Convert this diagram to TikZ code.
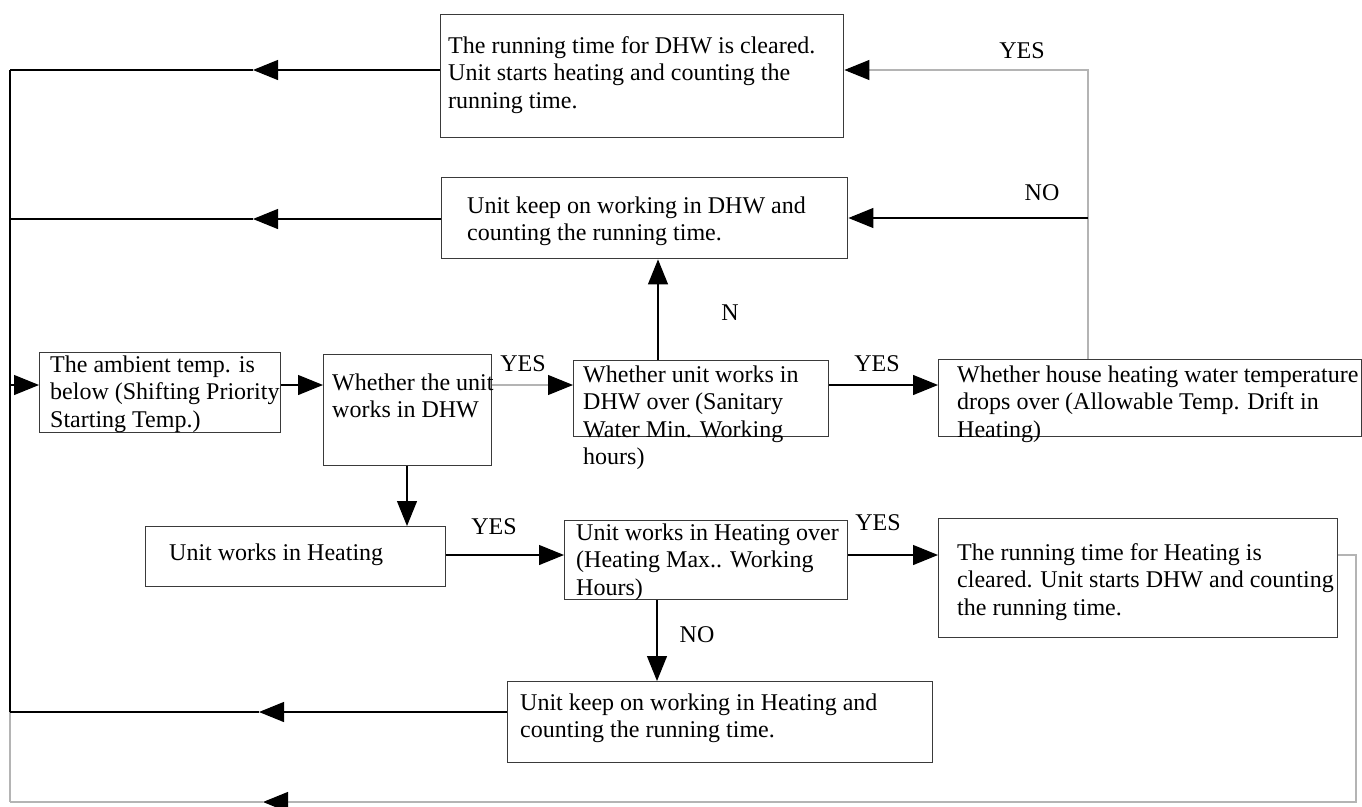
\documentclass[tikz,border=0pt]{standalone}
\usepackage{fontspec}
\setmainfont{Liberation Serif}
\usetikzlibrary{arrows.meta}
\definecolor{boxgray}{HTML}{3A3A3A}
\definecolor{linegray}{HTML}{B4B4B4}
% multi-line text whose baseline is the first line
\newcommand\mlines[1]{\begin{tabular}[t]{@{}l@{}}#1\end{tabular}}
\begin{document}
\begin{tikzpicture}[x=1pt,y=-1pt,
  box/.style={draw=boxgray, line width=1.4pt, rectangle, anchor=north west, inner sep=0pt},
  txt/.style={anchor=base west, inner sep=0pt, font=\fontsize{24}{27.5}\selectfont},
  lbl/.style={inner sep=0pt, font=\fontsize{24}{27.5}\selectfont},
  line/.style={draw=black, line width=1.2pt},
  faint/.style={draw=linegray, line width=1.1pt},
  tip/.style={-{Triangle[length=25pt,width=20pt,color=black]}}
]
\fill[white] (0,0) rectangle (1362,806);
\useasboundingbox (0,0) rectangle (1362,806);

% boxes
\node[box, minimum width=403pt, minimum height=123pt] (T1) at (440,14) {};
\node[box, minimum width=406pt, minimum height=81pt]  (T2) at (441,177) {};
\node[box, minimum width=241pt, minimum height=80pt]  (A)  at (39,352) {};
\node[box, minimum width=168pt, minimum height=111pt] (B)  at (323,354) {};
\node[box, minimum width=255pt, minimum height=76pt]  (C)  at (573,360) {};
\node[box, minimum width=423pt, minimum height=77pt]  (D)  at (938,359) {};
\node[box, minimum width=300pt, minimum height=60pt]  (E)  at (145,526) {};
\node[box, minimum width=283pt, minimum height=79pt]  (F)  at (564,520) {};
\node[box, minimum width=399pt, minimum height=119pt] (G)  at (938,518) {};
\node[box, minimum width=425pt, minimum height=81pt]  (H)  at (507,681) {};

% box texts
\node[txt] (T1t) at (448,53) {\mlines{The running time for DHW is cleared.\\Unit starts heating and counting the\\running time.}};
\node[txt] (T2t) at (467,213) {\mlines{Unit keep on working in DHW and\\counting the running time.}};
\node[txt] (At)  at (50,372)  {\mlines{The ambient temp. is\\below (Shifting Priority\\Starting Temp.)}};
\node[txt] (Bt)  at (332,390) {\mlines{Whether the unit\\works in DHW}};
\node[txt] (Ct)  at (583,382) {\mlines{Whether unit works in\\DHW over (Sanitary\\Water Min. Working\\hours)}};
\node[txt] (Dt)  at (957,382) {\mlines{Whether house heating water temperature\\drops over (Allowable Temp. Drift in\\Heating)}};
\node[txt] (Et)  at (169,560) {Unit works in Heating};
\node[txt] (Ft)  at (576,540) {\mlines{Unit works in Heating over\\(Heating Max.. Working\\Hours)}};
\node[txt] (Gt)  at (957,560) {\mlines{The running time for Heating is\\cleared. Unit starts DHW and counting\\the running time.}};
\node[txt] (Ht)  at (520,710) {\mlines{Unit keep on working in Heating and\\counting the running time.}};

% routing points
\coordinate (Ltop) at (10,70);
\coordinate (Lmid) at (10,219);
\coordinate (Lrow) at (10,385);
\coordinate (Lh)   at (10,712);
\coordinate (Lbot) at (10,802);
\coordinate (m1) at (253,70);
\coordinate (m2) at (253,219);
\coordinate (m3) at (259,712);
\coordinate (m4) at (263,802);
\coordinate (J)  at (1088,70);
\coordinate (Jn) at (1088,218);
\coordinate (cv) at (658,300);
\coordinate (fv) at (657,640);
\coordinate (bv) at (407,500);
\coordinate (R)  at (1356,555);
\coordinate (Rb) at (1356,802);

% return bus on the left
\draw[line] (Ltop) -- (Lh);
\draw[faint] (Lh) -- (Lbot);
\draw[line,tip] (T1.west |- Ltop) -- (m1);
\draw[line] (m1) -- (Ltop);
\draw[line,tip] (T2.west |- Lmid) -- (m2);
\draw[line] (m2) -- (Lmid);
\draw[line,tip] (H.west |- Lh) -- (m3);
\draw[line] (m3) -- (Lh);
\draw[faint,tip] (G.east |- R) -- (R) -- (Rb) -- (m4);
\draw[faint] (m4) -- (Lbot);

% main row
\draw[line,tip] (Lrow) -- (A.west |- Lrow);
\draw[line,tip] (A.east |- Lrow) -- (B.west |- Lrow);
\draw[faint,tip] (B.east |- Lrow) -- (C.west |- Lrow);
\draw[line,tip] (C.east |- Lrow) -- (D.west |- Lrow);
\draw[line,tip] (C.north -| cv) -- (T2.south -| cv);
\draw[faint,tip] (D.north -| J) -- (J) -- (T1.east |- J);
\draw[line,tip] (Jn) -- (T2.east |- Jn);

% heating branch
\draw[line,tip] (B.south -| bv) -- (E.north -| bv);
\draw[line,tip] (E.east |- R) -- (F.west |- R);
\draw[line,tip] (F.east |- R) -- (G.west |- R);
\draw[line,tip] (F.south -| fv) -- (H.north -| fv);

% branch labels
\node[lbl] (yes1) at (523,364) {YES};
\node[lbl] (yes2) at (877,364) {YES};
\node[lbl] (yes3) at (1022,51) {YES};
\node[lbl] (no1)  at (1042,193) {NO};
\node[lbl] (n1)   at (730,313) {N};
\node[lbl] (yes4) at (494,527) {YES};
\node[lbl] (yes5) at (878,523) {YES};
\node[lbl] (no2)  at (697,635) {NO};
\end{tikzpicture}
\end{document}
